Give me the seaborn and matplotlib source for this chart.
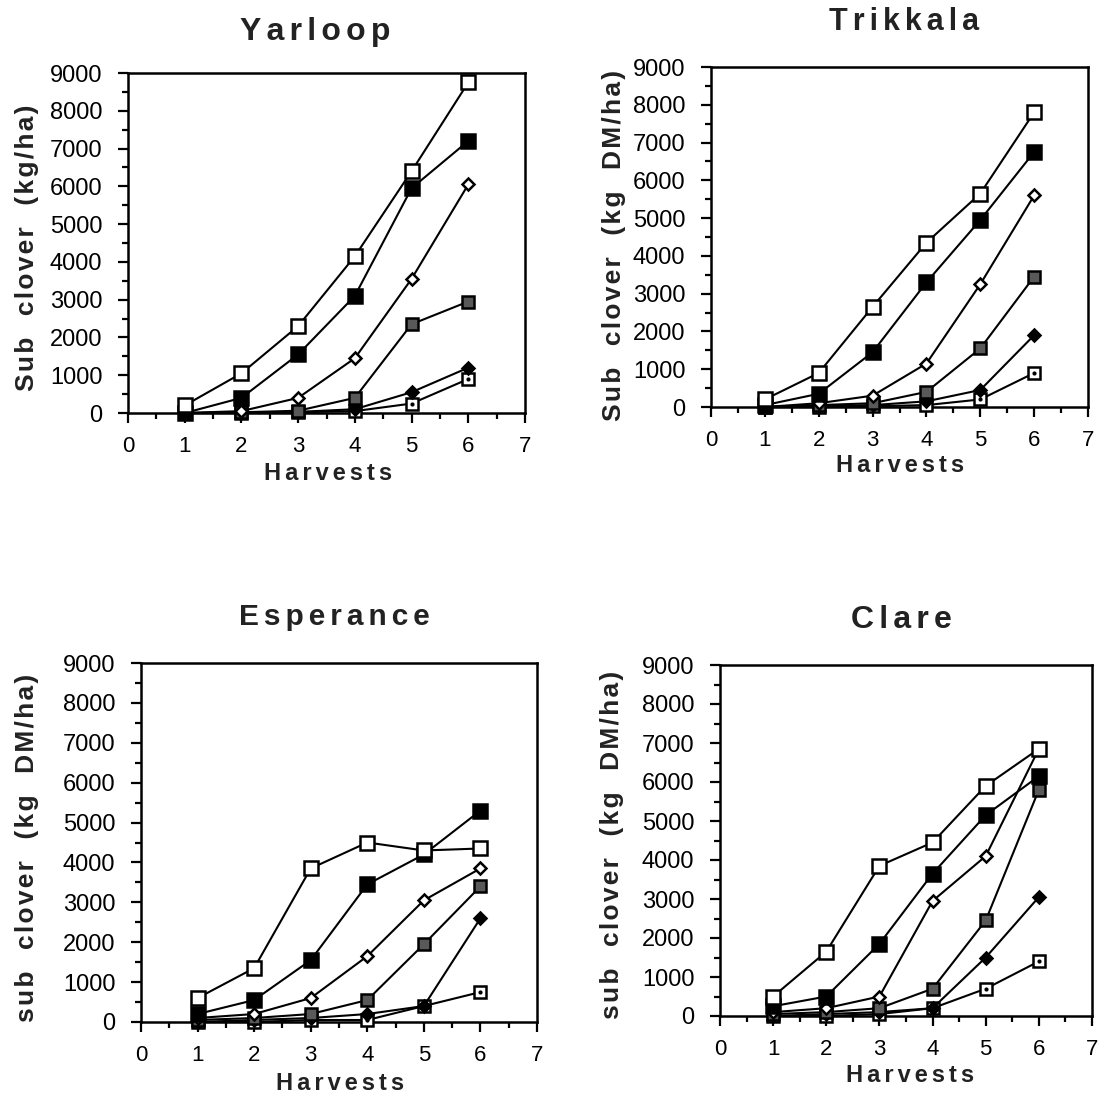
import matplotlib
matplotlib.use("Agg")
import matplotlib.pyplot as plt
from matplotlib.ticker import MultipleLocator
import seaborn as sns
import pandas as pd

# Harvest number on the x axis
harvests = [1, 2, 3, 4, 5, 6]

# Sub clover yield (kg DM/ha) for the six treatment series in each cultivar
yarloop_s1 = [200, 1050, 2300, 4150, 6400, 8750]
yarloop_s2 = [0, 400, 1550, 3100, 5950, 7200]
yarloop_s3 = [0, 50, 400, 1450, 3550, 6050]
yarloop_s4 = [0, 20, 60, 400, 2350, 2950]
yarloop_s5 = [0, 0, 30, 100, 550, 1200]
yarloop_s6 = [0, 0, 20, 50, 250, 900]

trikkala_s1 = [200, 900, 2650, 4350, 5650, 7800]
trikkala_s2 = [50, 350, 1450, 3300, 4950, 6750]
trikkala_s3 = [0, 100, 300, 1150, 3250, 5600]
trikkala_s4 = [0, 50, 100, 400, 1550, 3450]
trikkala_s5 = [0, 20, 50, 150, 450, 1900]
trikkala_s6 = [0, 0, 20, 50, 200, 900]

esperance_s1 = [600, 1350, 3850, 4500, 4300, 4350]
esperance_s2 = [200, 550, 1550, 3450, 4200, 5300]
esperance_s3 = [100, 200, 600, 1650, 3050, 3850]
esperance_s4 = [50, 100, 200, 550, 1950, 3400]
esperance_s5 = [0, 50, 100, 200, 400, 2600]
esperance_s6 = [0, 0, 50, 50, 400, 750]

clare_s1 = [500, 1650, 3850, 4450, 5900, 6850]
clare_s2 = [250, 500, 1850, 3650, 5150, 6150]
clare_s3 = [100, 200, 500, 2950, 4100, 6850]
clare_s4 = [50, 100, 200, 700, 2450, 5800]
clare_s5 = [0, 50, 100, 200, 1500, 3050]
clare_s6 = [0, 0, 50, 200, 700, 1400]

titles = ["Yarloop", "Trikkala", "Esperance", "Clare"]
ylabels = ["Sub  clover  (kg/ha)", "Sub  clover  (kg  DM/ha)",
           "sub  clover  (kg  DM/ha)", "sub  clover  (kg  DM/ha)"]
xlabel = "Harvests"

panels = [
    [yarloop_s1, yarloop_s2, yarloop_s3, yarloop_s4, yarloop_s5, yarloop_s6],
    [trikkala_s1, trikkala_s2, trikkala_s3, trikkala_s4, trikkala_s5, trikkala_s6],
    [esperance_s1, esperance_s2, esperance_s3, esperance_s4, esperance_s5, esperance_s6],
    [clare_s1, clare_s2, clare_s3, clare_s4, clare_s5, clare_s6],
]

sns.set_style("ticks")
FAM = ["Liberation Sans", "DejaVu Sans"]
plt.rcParams["font.family"] = FAM

# marker style per series
styles = [
    dict(marker="s", markersize=10, markerfacecolor="white"),
    dict(marker="s", markersize=9.5, markerfacecolor="black"),
    dict(marker="D", markersize=6, markerfacecolor="white"),
    dict(marker="s", markersize=9, markerfacecolor="0.35"),
    dict(marker="D", markersize=6.5, markerfacecolor="black"),
    dict(marker="s", markersize=8, markerfacecolor="white"),
]


def spaced(text, n=2):
    """Letter-space a label with hair spaces."""
    return ("\u200a" * n).join(text)


fig = plt.figure(figsize=(11.02, 10.96), dpi=100)
W, H = 1102, 1096
# axes boxes in pixels: left, right, top, bottom
boxes = [(128, 525, 73, 413), (711, 1088, 67, 407),
         (141, 537, 663, 1022), (720, 1092, 665, 1016)]
title_xy = [(315, 32), (904, 22), (334, 617), (901, 620)]
title_size = [23, 22, 21.5, 23]
xlab_xy = [(328, 473), (900, 465), (340, 1083), (910, 1076)]
ylab_xy = [(27, 248), (614, 245), (27, 848), (612, 845)]

for i, (l, r, t, b) in enumerate(boxes):
    ax = fig.add_axes([l / W, 1 - b / H, (r - l) / W, (b - t) / H])
    series = panels[i]
    for k in reversed(range(6)):
        df = pd.DataFrame({"Harvests": harvests, "Yield": series[k]})
        sns.lineplot(data=df, x="Harvests", y="Yield", ax=ax, color="black",
                     linewidth=1.5, markeredgecolor="black",
                     markeredgewidth=1.8, clip_on=False, zorder=3 + (6 - k),
                     **styles[k])
        if k == 5:
            ax.plot(harvests, series[k], linestyle="none", marker="o",
                    markersize=2, color="black", clip_on=False,
                    zorder=3 + (6 - k) + 0.5)
    ax.set_xlim(0, 7)
    ax.set_ylim(0, 9000)
    ax.xaxis.set_major_locator(MultipleLocator(1))
    ax.xaxis.set_minor_locator(MultipleLocator(0.5))
    ax.yaxis.set_major_locator(MultipleLocator(1000))
    ax.yaxis.set_minor_locator(MultipleLocator(500))
    ax.tick_params(which="both", direction="out", width=1.6, colors="black",
                   top=False, right=False)
    ax.tick_params(which="major", length=7.5)
    ax.tick_params(which="minor", length=4.5)
    ax.tick_params(axis="y", which="major", labelsize=17, pad=11)
    ax.tick_params(axis="x", which="major", labelsize=16, pad=9)
    for sp in ax.spines.values():
        sp.set_linewidth(1.8)
        sp.set_color("black")
        sp.set_visible(True)
    ax.set_xlabel("")
    ax.set_ylabel("")
    tx, ty = title_xy[i]
    fig.text(tx / W, 1 - ty / H, spaced(titles[i]),
             ha="center", va="center", fontsize=title_size[i],
             fontweight="bold", family=FAM, color="#222222")
    hx, hy = xlab_xy[i]
    fig.text(hx / W, 1 - hy / H, spaced(xlabel),
             ha="center", va="center", fontsize=17, fontweight="bold",
             family=FAM, color="#222222")
    yx, yy = ylab_xy[i]
    fig.text(yx / W, 1 - yy / H, spaced(ylabels[i], 1), rotation=90,
             ha="center", va="center", fontsize=19, fontweight="bold",
             family=FAM, color="#222222")

fig.savefig("out.png", dpi=100, facecolor="white")
